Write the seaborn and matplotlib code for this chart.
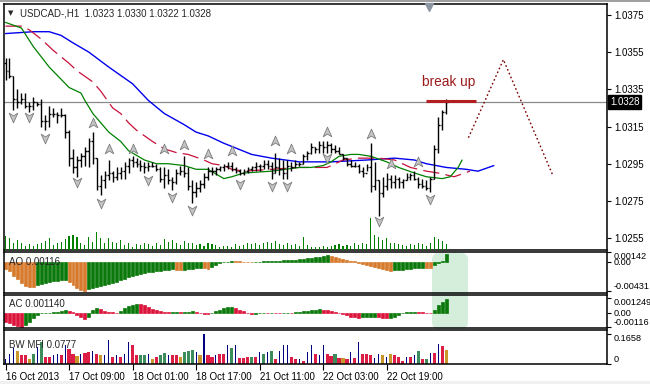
import numpy as np
import matplotlib
matplotlib.use("Agg")
import matplotlib.pyplot as plt
import matplotlib.transforms as mtransforms
from matplotlib.path import Path
from matplotlib.patches import FancyBboxPatch, Rectangle
import seaborn as sns

# ---- H1 bars, USDCAD 16 Oct 17:00 .. 23 Oct 09:00 ----
open_first = 1.0349
highs = [1.0352, 1.0352, 1.0342, 1.0335, 1.0333, 1.0333, 1.0328, 1.0331, 1.0328, 1.0330,
         1.0321, 1.0326, 1.0325, 1.0323, 1.0325, 1.0322, 1.0313, 1.0303, 1.0299, 1.0301,
         1.0304, 1.0309, 1.0312, 1.0298, 1.0289, 1.0291, 1.0297, 1.0291, 1.0293, 1.0293,
         1.0296, 1.0298, 1.0299, 1.0298, 1.0297, 1.0296, 1.0296, 1.0296, 1.0295, 1.0293,
         1.0293, 1.0292, 1.0288, 1.0292, 1.0294, 1.0299, 1.0293, 1.0286, 1.0285, 1.0286,
         1.0290, 1.0293, 1.0293, 1.0293, 1.0294, 1.0295, 1.0296, 1.0296, 1.0293, 1.0292,
         1.0292, 1.0293, 1.0294, 1.0296, 1.0295, 1.0297, 1.0297, 1.0296, 1.0301, 1.0298,
         1.0297, 1.0297, 1.0296, 1.0297, 1.0296, 1.0300, 1.0302, 1.0306, 1.0304, 1.0307,
         1.0307, 1.0307, 1.0306, 1.0305, 1.0304, 1.0300, 1.0298, 1.0297, 1.0296, 1.0295,
         1.0293, 1.0295, 1.0306, 1.0296, 1.0286, 1.0288, 1.0290, 1.0289, 1.0289, 1.0288,
         1.0287, 1.0290, 1.0290, 1.0291, 1.0288, 1.0287, 1.0286, 1.0288, 1.0305, 1.0320,
         1.0324, 1.0330]
lows = [1.0340, 1.0341, 1.0324, 1.0325, 1.0327, 1.0325, 1.0323, 1.0324, 1.0326, 1.0315,
        1.0313, 1.0315, 1.0320, 1.0317, 1.0320, 1.0309, 1.0294, 1.0290, 1.0288, 1.0293,
        1.0294, 1.0293, 1.0295, 1.0281, 1.0278, 1.0282, 1.0286, 1.0285, 1.0286, 1.0287,
        1.0287, 1.0290, 1.0293, 1.0293, 1.0291, 1.0290, 1.0291, 1.0293, 1.0291, 1.0285,
        1.0282, 1.0284, 1.0281, 1.0284, 1.0289, 1.0288, 1.0281, 1.0274, 1.0277, 1.0280,
        1.0282, 1.0286, 1.0289, 1.0289, 1.0291, 1.0291, 1.0292, 1.0291, 1.0290, 1.0289,
        1.0289, 1.0290, 1.0291, 1.0291, 1.0291, 1.0292, 1.0292, 1.0287, 1.0290, 1.0289,
        1.0287, 1.0287, 1.0291, 1.0293, 1.0294, 1.0295, 1.0297, 1.0300, 1.0301, 1.0301,
        1.0301, 1.0301, 1.0301, 1.0301, 1.0300, 1.0297, 1.0294, 1.0293, 1.0293, 1.0290,
        1.0288, 1.0291, 1.0280, 1.0281, 1.0267, 1.0277, 1.0281, 1.0282, 1.0282, 1.0282,
        1.0282, 1.0286, 1.0286, 1.0286, 1.0282, 1.0282, 1.0281, 1.0280, 1.0287, 1.0301,
        1.0313, 1.0322]
closes = [1.0345, 1.0342, 1.0330, 1.0328, 1.0330, 1.0326, 1.0326, 1.0328, 1.0327, 1.0318,
          1.0318, 1.0322, 1.0322, 1.0321, 1.0321, 1.0312, 1.0298, 1.0293, 1.0297, 1.0299,
          1.0302, 1.0307, 1.0298, 1.0283, 1.0286, 1.0289, 1.0290, 1.0288, 1.0290, 1.0291,
          1.0294, 1.0297, 1.0296, 1.0295, 1.0294, 1.0293, 1.0294, 1.0294, 1.0292, 1.0287,
          1.0289, 1.0286, 1.0285, 1.0290, 1.0291, 1.0290, 1.0283, 1.0280, 1.0282, 1.0284,
          1.0288, 1.0291, 1.0291, 1.0292, 1.0293, 1.0294, 1.0294, 1.0292, 1.0291, 1.0290,
          1.0291, 1.0292, 1.0293, 1.0294, 1.0294, 1.0295, 1.0294, 1.0290, 1.0293, 1.0292,
          1.0290, 1.0294, 1.0293, 1.0295, 1.0295, 1.0299, 1.0301, 1.0304, 1.0303, 1.0305,
          1.0304, 1.0305, 1.0303, 1.0302, 1.0300, 1.0298, 1.0295, 1.0294, 1.0294, 1.0291,
          1.0290, 1.0293, 1.0283, 1.0286, 1.0279, 1.0283, 1.0287, 1.0285, 1.0287, 1.0285,
          1.0286, 1.0288, 1.0289, 1.0287, 1.0284, 1.0283, 1.0282, 1.0287, 1.0303, 1.0316,
          1.0323, 1.0328]
volumes = [560, 480, 280, 400, 280, 160, 240, 160, 240, 280, 360, 480, 200, 280, 320, 440,
           560, 600, 520, 280, 200, 520, 320, 720, 480, 280, 480, 320, 280, 400, 200, 280,
           120, 240, 200, 280, 240, 160, 280, 200, 440, 320, 400, 280, 200, 360, 280, 280,
           200, 240, 160, 280, 240, 200, 120, 160, 160, 120, 240, 160, 200, 280, 240, 280,
           200, 280, 320, 280, 360, 240, 200, 280, 200, 240, 160, 520, 200, 120, 120, 120,
           160, 120, 160, 200, 240, 160, 200, 160, 280, 200, 280, 240, 1280, 600, 520, 400,
           480, 280, 280, 240, 200, 160, 240, 200, 280, 240, 160, 280, 520, 440, 360, 240]

# ---- Alligator lines (jaw / teeth / lips), sampled along the chart ----
jaw_i = [0, 7, 11, 14, 17, 21, 26, 32, 36, 40, 45, 48, 51, 55, 62, 67, 74, 82, 91, 98,
         103, 106, 111, 116, 119, 123]
jaw_p = [1.0365, 1.0366, 1.0366, 1.0364, 1.0360, 1.0355, 1.0347, 1.0338, 1.0329, 1.0322,
         1.0316, 1.0312, 1.0310, 1.0306, 1.0300, 1.0298, 1.0296, 1.0296, 1.0297, 1.0298,
         1.0297, 1.0295, 1.0293, 1.0292, 1.0291, 1.0294]
teeth_i = [0, 4, 6, 9, 12, 16, 18, 22, 24, 27, 29, 31, 33, 37, 40, 43, 46, 50, 52, 55,
           57, 60, 67, 74, 81, 82, 85, 89, 94, 98, 102, 106, 109, 113, 117]
teeth_p = [1.0369, 1.0369, 1.0367, 1.0362, 1.0356, 1.0349, 1.0345, 1.0339, 1.0334, 1.0325,
           1.0322, 1.0317, 1.0313, 1.0307, 1.0303, 1.0301, 1.0300, 1.0297, 1.0295, 1.0294,
           1.0292, 1.0291, 1.0292, 1.0293, 1.0293, 1.0294, 1.0297, 1.0298, 1.0298, 1.0297,
           1.0293, 1.0291, 1.0290, 1.0288, 1.0291]
lips_i = [0, 4, 7, 11, 16, 19, 20, 22, 24, 26, 29, 31, 35, 38, 41, 45, 48, 51, 55, 57,
          60, 67, 74, 77, 80, 82, 84, 87, 89, 92, 96, 99, 103, 106, 110, 112, 114, 115]
lips_p = [1.0371, 1.0368, 1.0358, 1.0347, 1.0336, 1.0333, 1.0329, 1.0322, 1.0317, 1.0312,
          1.0307, 1.0302, 1.0297, 1.0295, 1.0295, 1.0294, 1.0292, 1.0292, 1.0287, 1.0288,
          1.0290, 1.0291, 1.0293, 1.0293, 1.0294, 1.0296, 1.0299, 1.0300, 1.0300, 1.0299,
          1.0296, 1.0293, 1.0290, 1.0288, 1.0287, 1.0288, 1.0293, 1.0297]

# ---- Fractals ----
frac_up_i = [22, 26, 32, 40, 45, 51, 57, 68, 72, 81, 92, 97, 104]
frac_up_p = [1.0317, 1.0303, 1.0303, 1.0303, 1.0305, 1.0300, 1.0302, 1.0307, 1.0303,
             1.0312, 1.0311, 1.0295, 1.0296]
frac_dn_i = [2, 6, 10, 18, 24, 36, 42, 47, 59, 67, 71, 81, 94, 107]
frac_dn_p = [1.0320, 1.0320, 1.0309, 1.0285, 1.0274, 1.0286, 1.0277, 1.0270, 1.0284,
             1.0283, 1.0283, 1.0298, 1.0264, 1.0276]

# ---- Awesome Oscillator ----
ao = [-0.00104, -0.00134, -0.00208, -0.00253, -0.00312, -0.00357, -0.00364, -0.00372,
      -0.00342, -0.00327, -0.00312, -0.00297, -0.00282, -0.00275, -0.00267, -0.00260,
      -0.00297, -0.00342, -0.00386, -0.00416, -0.00431,
      -0.00401, -0.00386, -0.00372, -0.00357, -0.00342, -0.00327, -0.00312, -0.00297,
      -0.00267, -0.00253, -0.00223, -0.00208, -0.00193, -0.00178, -0.00163, -0.00149,
      -0.00141, -0.00134, -0.00126, -0.00119, -0.00111, -0.00104,
      -0.00111, -0.00119,
      -0.00111, -0.00104, -0.00097, -0.00089, -0.00082,
      -0.00089, -0.00097,
      -0.00074, -0.00045, -0.00022, -0.00007, 0.00005, 0.00012,
      0.00011, 0.00008, 0.00005, 0.00002, -0.00003,
      0.00003, 0.00006, 0.00009, 0.00012, 0.00015, 0.00018, 0.00021, 0.00024, 0.00027,
      0.00030, 0.00035, 0.00039, 0.00045, 0.00053, 0.00060, 0.00068, 0.00075, 0.00086,
      0.00098,
      0.00090, 0.00080, 0.00065, 0.00048, 0.00033, 0.00018, 0.00008, -0.00008, -0.00023,
      -0.00038, -0.00053, -0.00068, -0.00083, -0.00098, -0.00113, -0.00129,
      -0.00124, -0.00118, -0.00112, -0.00106, -0.00101, -0.00095, -0.00091, -0.00086,
      -0.00089, -0.00094,
      -0.00045, -0.00015, 0.00008, 0.00116]

# ---- Accelerator Oscillator ----
ac = [-0.000727, -0.000866, -0.000996, -0.001083, -0.00116, -0.001013, -0.000727, -0.000433,
      -0.000147, -0.000026, 0.000009, 0.000026, 0.000052, 0.000087, 0.000173, 0.00026,
      0.000173, 0.000043, -0.000173, -0.000346, -0.000476, -0.000346, 0.00026, 0.000433,
      0.000346, 0.000173, 0.000087, 0.000043, 0.000026, 0.000173, 0.00039, 0.000563,
      0.000675, 0.000719, 0.000693, 0.000606, 0.000476, 0.000346, 0.00026, 0.000173,
      0.000087, 0.000043, 0.000069, 0.000095, 0.000052, 0.000078, 0.000104, 0.00013,
      0.000087, 0.0, -0.000087, -0.00013, -0.000043, 0.00013, 0.00026, 0.00039,
      0.000476, 0.00052, 0.00039, 0.00026, 0.00013, 0.0, -0.00013, -0.000087,
      -0.000043, 0.0, -0.000017, 0.000026, 0.000009, -0.000026, 0.0, 0.000017,
      -0.000017, 0.000043, 0.000087, 0.00013, 0.000173, 0.000217, 0.00026, 0.000277,
      0.000242, 0.000217, 0.00013, 0.000043, -0.000043, -0.00013, -0.000217, -0.000303,
      -0.000364, -0.000398, -0.000381, -0.000364, -0.000346, -0.000329, -0.000364, -0.00039,
      -0.000416, -0.00039, -0.000346, -0.000173, -0.000043, 0.000043, 0.000087, 0.000104,
      0.000087, 0.000043, 0.0, -0.000026, 0.00026, 0.000606, 0.000866, 0.00114]

# ---- Bill Williams MFI and its colour class ----
mfi = [0.0286, 0.0572, 0.0898, 0.0704, 0.0475, 0.0475, 0.0286, 0.0572, 0.0955, 0.1241,
       0.0418, 0.0418, 0.0515, 0.0572, 0.0515, 0.1047, 0.0818, 0.0572, 0.0440, 0.0572,
       0.0629, 0.0669, 0.0704, 0.0532, 0.0475, 0.0475, 0.1333, 0.0418, 0.0475, 0.0383,
       0.0572, 0.1201, 0.1047, 0.0475, 0.0515, 0.0515, 0.0572, 0.0286, 0.0418, 0.0475,
       0.0629, 0.0515, 0.0515, 0.0515, 0.0383, 0.0669, 0.0704, 0.0761, 0.0669, 0.0475,
       0.1658, 0.0475, 0.0383, 0.0515, 0.0572, 0.0572, 0.1087, 0.0898, 0.1047, 0.0326,
       0.0343, 0.0383, 0.0383, 0.0383, 0.0669, 0.0572, 0.0669, 0.0704, 0.0286, 0.0704,
       0.1047, 0.1047, 0.0383, 0.0286, 0.0286, 0.0189, 0.0669, 0.1087, 0.0572, 0.0475,
       0.1087, 0.0572, 0.0458, 0.0532, 0.0343, 0.0343, 0.0286, 0.0669, 0.0343, 0.1241,
       0.0572, 0.0532, 0.0475, 0.0326, 0.0572, 0.0475, 0.0383, 0.0532, 0.0515, 0.0383,
       0.0189, 0.0418, 0.0383, 0.0475, 0.0704, 0.0286, 0.0286, 0.0629, 0.0629, 0.1104,
       0.0990, 0.0777]
# N = fake (blue), R = squat (pink), G = fade (brown), S = green
mfi_kind = list("NNNGRRGSNS" "RRNNRNRRGN" "RRNRGNNRNR" "NNRRSSNGRS" "SNRRGSSSNG"
                "NRRNRRNSNR" "RRSRNSNSRN" "NNRRNRNNRN" "NRRSRGRNRN" "RRRNNGNGRR"
                "RNRNSRSNRN" "RG")

time_ticks = [0, 16, 32, 48, 64, 80, 96]
time_labels = ["16 Oct 2013", "17 Oct 09:00", "18 Oct 01:00", "18 Oct 17:00",
               "21 Oct 11:00", "22 Oct 03:00", "22 Oct 19:00"]
price_ticks = [1.0375, 1.0355, 1.0335, 1.0315, 1.0295, 1.0275, 1.0255]
bid = 1.0328

# hand-drawn analysis on the chart
zigzag_x = [116.6, 125.4, 137.8]
zigzag_y = [1.0309, 1.0351, 1.0289]
breakup_level = 1.0329

sns.set_style("white")
plt.rcParams["font.family"] = ["Liberation Sans", "DejaVu Sans"]
FS = 7
FS_SUB = 6.6

W, H = 650, 384
fig = plt.figure(figsize=(W / 100, H / 100), dpi=100)
fig.patch.set_facecolor("white")


def rect(x0, y0, x1, y1):
    return [x0 / W, 1 - y1 / H, (x1 - x0) / W, (y1 - y0) / H]


ax = fig.add_axes(rect(4, 4, 607, 250))
axv = fig.add_axes(rect(4, 4, 607, 250), sharex=ax)
ax_ao = fig.add_axes(rect(4, 252, 607, 293), sharex=ax)
ax_ac = fig.add_axes(rect(4, 295, 607, 328), sharex=ax)
ax_mfi = fig.add_axes(rect(4, 330, 607, 364), sharex=ax)

idx = np.arange(len(closes))
opens = [open_first] + closes[:-1]

# volumes at the foot of the main window
axv.bar(idx, volumes, width=0.28, color="#008000", linewidth=0)
axv.set_ylim(0, max(volumes) * 246 / 32)
axv.axis("off")

# OHLC bars
ax.axhline(bid, color="#8a8a8a", lw=0.9, zorder=1)
ax.vlines(idx, lows, highs, color="black", lw=1.0, zorder=3)
ax.hlines(opens, idx - 0.4, idx, color="black", lw=1.0, zorder=3)
ax.hlines(closes, idx, idx + 0.4, color="black", lw=1.0, zorder=3)

# alligator
sns.lineplot(x=jaw_i, y=jaw_p, ax=ax, color="#0000ee", lw=1.0, zorder=2)
sns.lineplot(x=teeth_i, y=teeth_p, ax=ax, color="#c8103c", lw=0.9,
             linestyle=(0, (13, 5)), zorder=2)
sns.lineplot(x=lips_i, y=lips_p, ax=ax, color="#008000", lw=0.9, zorder=2)

# fractal arrows
up_arrow = Path([(0, 1), (0.8, -0.8), (0, -0.3), (-0.8, -0.8), (0, 1)],
                [Path.MOVETO, Path.LINETO, Path.LINETO, Path.LINETO, Path.CLOSEPOLY])
dn_arrow = Path([(0, -1), (0.8, 0.8), (0, 0.3), (-0.8, 0.8), (0, -1)],
                [Path.MOVETO, Path.LINETO, Path.LINETO, Path.LINETO, Path.CLOSEPOLY])
sns.scatterplot(x=frac_up_i, y=frac_up_p, ax=ax, marker=up_arrow, s=60,
                color="#c4c4c4", edgecolor="#7c7c7c", linewidth=0.6, zorder=4)
sns.scatterplot(x=frac_dn_i, y=frac_dn_p, ax=ax, marker=dn_arrow, s=60,
                color="#c4c4c4", edgecolor="#7c7c7c", linewidth=0.6, zorder=4)

# annotations
ax.plot(zigzag_x, zigzag_y, color="#7a0000", lw=1.0, ls=(0, (1.2, 1.8)), zorder=3)
ax.hlines(breakup_level, 105.8, 118.4, color="#b01e22", lw=2.2, zorder=4)
ax.text(105.0, 1.0339, "break up", color="#9a1a1a", fontsize=9.8, va="center", ha="left")

ax.set_xlim(-0.38, 151.5)
ax.set_ylim(1.02486, 1.03809)
ax.set_yticks(price_ticks)
ax.set_yticklabels([f"{p:.4f}" for p in price_ticks])
ax.yaxis.tick_right()
ax.tick_params(axis="y", length=3, pad=2, labelsize=FS, direction="out", colors="black")
ax.set_xlabel("")
ax.set_ylabel("")

trans = mtransforms.blended_transform_factory(ax.transAxes, ax.transData)
ax.text(1.0 + 3 / 603, bid, f"{bid:.4f}", transform=trans, color="white", fontsize=FS,
        va="center", ha="left", zorder=10,
        bbox=dict(boxstyle="square,pad=0.2", fc="black", ec="black"))
# chart-shift marker
ax.plot([106.7], [1 - 3 / 246], marker="v", ms=6, color="#8c96a2",
        transform=mtransforms.blended_transform_factory(ax.transData, ax.transAxes),
        clip_on=False, zorder=10)
ax.text(0.006, 0.963, "\u25bc", transform=ax.transAxes, fontsize=5, va="center",
        family=["DejaVu Sans"])
ax.text(0.026, 0.963, "USDCAD-,H1  1.0323 1.0330 1.0322 1.0328", transform=ax.transAxes,
        fontsize=FS, va="center", ha="left")

# AO
ao_col = ["#d77a2e"] + ["#0a780a" if b > a else "#d77a2e" for a, b in zip(ao[:-1], ao[1:])]
ax_ao.bar(idx, ao, width=0.75, color=ao_col, edgecolor=ao_col, linewidth=0.5)
ax_ao.set_ylim(-0.004545, 0.001466)
ax_ao.set_yticks([0.00142, 0.0, -0.00431])
ax_ao.set_yticklabels(["0.00142", "0.00", "-0.00431"])
ax_ao.text(0.008, 0.76, "AO 0.00116", transform=ax_ao.transAxes, fontsize=FS, va="center")

# AC
ac_col = ["#dc143c"] + ["#0a780a" if b > a else "#dc143c" for a, b in zip(ac[:-1], ac[1:])]
ax_ac.bar(idx, ac, width=0.75, color=ac_col, edgecolor=ac_col, linewidth=0.5)
ax_ac.set_ylim(-0.001244, 0.001467)
ax_ac.set_yticks([0.001249, 0.0, -0.00116])
ax_ac.set_yticklabels(["0.001249", "0.00", "-0.00116"])
ax_ac.text(0.008, 0.72, "AC 0.001140", transform=ax_ac.transAxes, fontsize=FS, va="center")

# BW MFI
mfi_colors = {"N": "#000080", "R": "#dc1e46", "G": "#c8962a", "S": "#3c8c5c"}
wide = [k != "N" for k in mfi_kind]
ax_mfi.bar(idx[wide], np.array(mfi)[wide], width=0.8,
           color=[mfi_colors[k] for k in mfi_kind if k != "N"], linewidth=0)
nv = [not w for w in wide]
ax_mfi.bar(idx[nv], np.array(mfi)[nv], width=0.28, color="#000080", linewidth=0)
ax_mfi.set_ylim(0, 0.1898)
ax_mfi.set_yticks([0.1658, 0.0])
ax_mfi.set_yticklabels(["0.1658", "0"])
ax_mfi.text(0.008, 0.56, "BW MFI 0.0777", transform=ax_mfi.transAxes, fontsize=FS,
            va="center")

for a in (ax_ao, ax_ac, ax_mfi):
    a.yaxis.tick_right()
    a.tick_params(axis="y", length=3, pad=1.5, labelsize=FS_SUB, direction="out",
                  colors="black")
    labs = a.get_yticklabels()
    labs[0].set_va("top")
    labs[-1].set_va("bottom")

for a in (ax, ax_ao, ax_ac, ax_mfi):
    a.set_facecolor("none")
    for s in a.spines.values():
        s.set_visible(True)
        s.set_color("black")
        s.set_linewidth(1.1)
    a.tick_params(axis="x", bottom=False, labelbottom=False)

ax_mfi.set_xticks(time_ticks)
ax_mfi.set_xticklabels(time_labels)
ax_mfi.tick_params(axis="x", bottom=True, labelbottom=True, length=4, pad=1.5,
                   labelsize=FS, direction="out", colors="black")
for lab in ax_mfi.get_xticklabels():
    lab.set_ha("left")
ax_mfi.set_xlim(-0.38, 151.5)

# highlight behind the newest AO / AC bars
hl = FancyBboxPatch((4.32, (H - 329) / 100), 0.36, 0.76,
                    boxstyle="round,pad=0,rounding_size=0.07",
                    transform=fig.dpi_scale_trans, fc="#d4eedb", ec="none", zorder=-1)
fig.patches.append(hl)
fig.patches.append(Rectangle((0, 0), 1, 3 / H, transform=fig.transFigure,
                             fc="#f0f0f0", ec="none", zorder=-2))
fig.patches.append(Rectangle((0, 1 - 2 / H), 1, 2 / H, transform=fig.transFigure,
                             fc="#a0a0a0", ec="none", zorder=-2))

fig.savefig("out.png", dpi=100)
